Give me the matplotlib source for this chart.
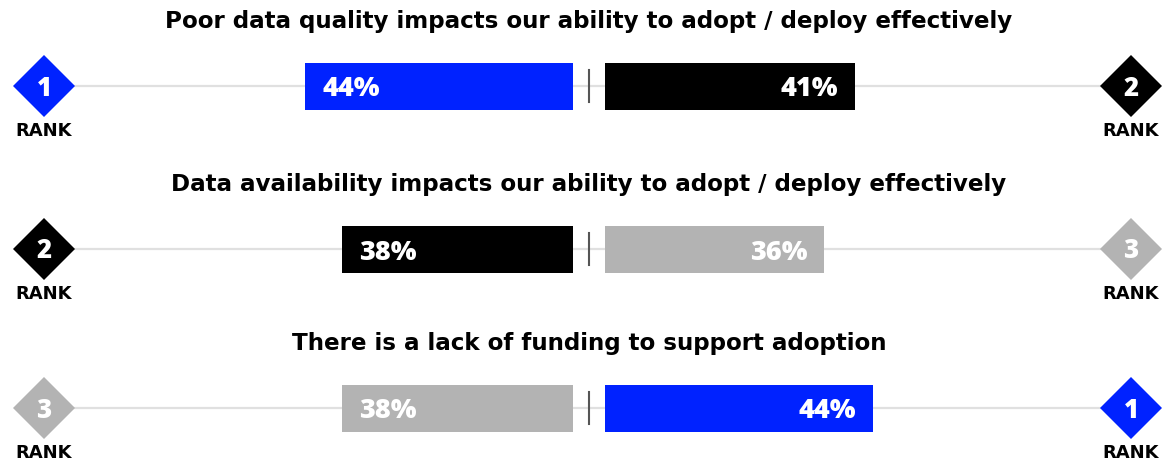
import matplotlib
matplotlib.use("Agg")
import matplotlib.pyplot as plt
from matplotlib.patches import Polygon

# ---- data ----
titles = [
    "Poor data quality impacts our ability to adopt / deploy effectively",
    "Data availability impacts our ability to adopt / deploy effectively",
    "There is a lack of funding to support adoption",
]
left_values = [44, 38, 38]
right_values = [41, 36, 44]
left_ranks = [1, 2, 3]
right_ranks = [2, 3, 1]

# ---- style ----
rank_colors = {1: "#0022ff", 2: "#000000", 3: "#b3b3b3"}
TITLE_FONT = ["DejaVu Sans"]
NUM_FONT = ["Open Sans", "DejaVu Sans"]
plt.rcParams["font.family"] = ["DejaVu Sans"]

W, H, DPI = 1174, 463, 100
PX_PER_UNIT = 6.09          # pixels per percentage point
CENTER_PX = 589
xmin = -CENTER_PX / PX_PER_UNIT
xmax = (W - CENTER_PX) / PX_PER_UNIT
GAP = 16 / PX_PER_UNIT      # gap between divider and bars (in % units)

row_y = [86, 249, 408]      # row centers (pixel rows)
bar_h = 47
diam_half_px = 31
diam_hx = diam_half_px / PX_PER_UNIT
left_diam_x = (44 - CENTER_PX) / PX_PER_UNIT
right_diam_x = (1131 - CENTER_PX) / PX_PER_UNIT

fig = plt.figure(figsize=(W / DPI, H / DPI), dpi=DPI)
ax = fig.add_axes([0, 0, 1, 1])
ax.set_xlim(xmin, xmax)
ax.set_ylim(H, 0)
ax.axis("off")


def diamond(x, y, color):
    pts = [(x - diam_hx, y), (x, y - diam_half_px), (x + diam_hx, y), (x, y + diam_half_px)]
    ax.add_patch(Polygon(pts, closed=True, facecolor=color, edgecolor="none", zorder=4))


for i, y in enumerate(row_y):
    lv, rv = left_values[i], right_values[i]
    lr, rr = left_ranks[i], right_ranks[i]
    # connecting line
    ax.plot([left_diam_x, right_diam_x], [y, y], color="#e0e0e0", lw=1.6, zorder=1,
            solid_capstyle="butt")
    # bars
    ax.barh(y, -lv, left=-GAP, height=bar_h, color=rank_colors[lr], zorder=2)
    ax.barh(y, rv, left=GAP, height=bar_h, color=rank_colors[rr], zorder=2)
    # value labels
    ax.text(-GAP - lv + 17 / PX_PER_UNIT, y + 10.5, f"{lv}%", color="white", fontsize=19.5,
            family=NUM_FONT, fontweight=800, ha="left", va="baseline", zorder=3)
    ax.text(GAP + rv - 17 / PX_PER_UNIT, y + 10.5, f"{rv}%", color="white", fontsize=19.5,
            family=NUM_FONT, fontweight=800, ha="right", va="baseline", zorder=3)
    # divider
    ax.plot([0, 0], [y - 16, y + 16], color="#555555", lw=1.5, zorder=3)
    # diamonds
    for dx, r in ((left_diam_x, lr), (right_diam_x, rr)):
        diamond(dx, y, rank_colors[r])
        ax.text(dx, y + 9.5, str(r), color="white", fontsize=18.5, family=NUM_FONT,
                fontweight=800, ha="center", va="baseline", zorder=5)
        ax.text(dx, y + 50, "RANK", color="black", fontsize=13, family=TITLE_FONT,
                fontweight="bold", ha="center", va="baseline", zorder=5)
    # title
    ax.text(0, y - 58, titles[i], color="black", fontsize=16.6, family=TITLE_FONT,
            fontweight="bold", ha="center", va="baseline", zorder=5)

fig.savefig("out.png", dpi=DPI)
